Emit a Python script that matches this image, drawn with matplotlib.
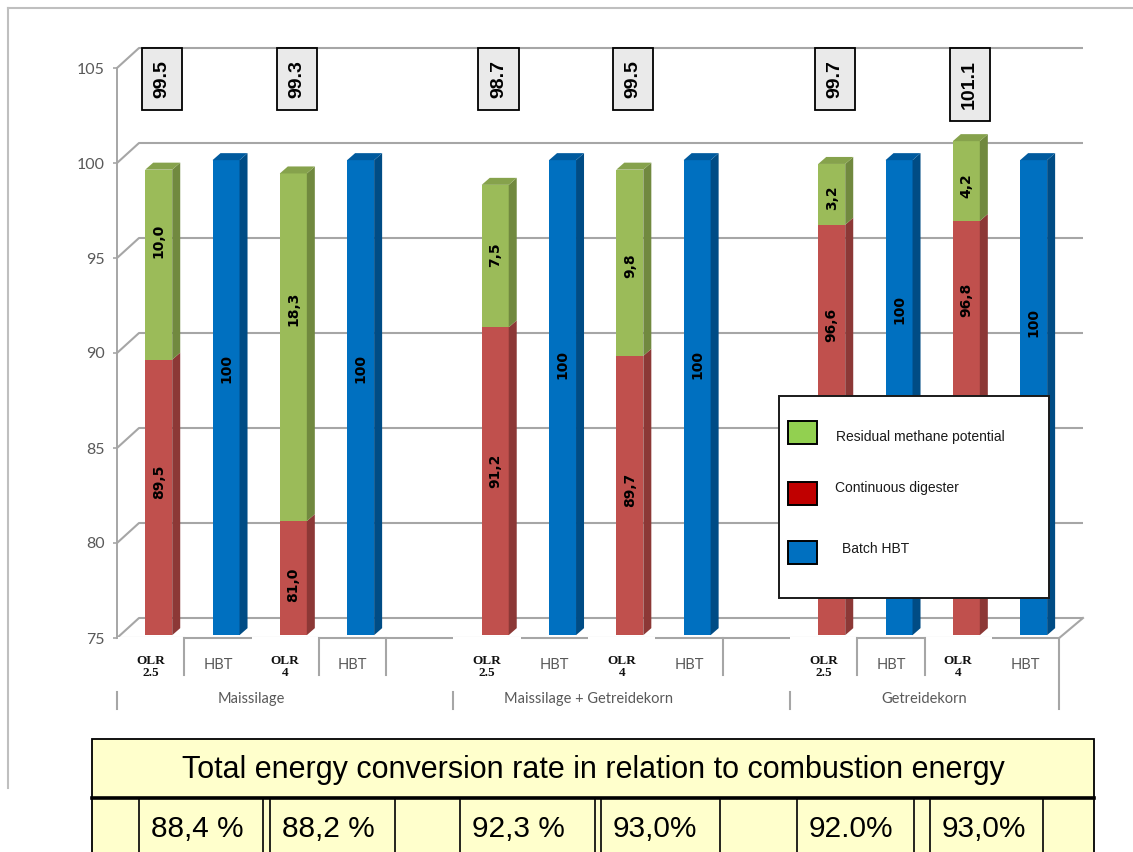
import matplotlib
matplotlib.use("Agg")
import matplotlib.pyplot as plt
from matplotlib.patches import Rectangle
from matplotlib import font_manager as fm

# ---------------- data ----------------
groups = ["Maissilage", "Maissilage + Getreidekorn", "Getreidekorn"]
olr_labels = ["OLR\n2.5", "OLR\n4"]
hbt_label = "HBT"
continuous = [89.5, 81.0, 91.2, 89.7, 96.6, 96.8]      # Continuous digester (red)
residual = [10.0, 18.3, 7.5, 9.8, 3.2, 4.2]            # Residual methane potential (green)
batch = [100, 100, 100, 100, 100, 100]                 # Batch HBT (blue)
totals = [99.5, 99.3, 98.7, 99.5, 99.7, 101.1]
conversion = ["88,4 %", "88,2 %", "92,3 %", "93,0%", "92.0%", "93,0%"]
table_title = "Total energy conversion rate in relation to combustion energy"
legend_labels = ["Residual methane potential", "Continuous digester", "Batch HBT"]
yticks = [75, 80, 85, 90, 95, 100, 105]

# ---------------- style / layout ----------------
W, H = 1133, 852
PXX, PXY = 67.3, 19.0          # px per category, px per y unit
AX_L, AX_B = 117, 638          # pixel position of (0, 75)
YMIN, YMAX = 75, 106.6
GRID = "#A6A6A6"
TXT = "#595959"
DEPTH_Y = 0.15                 # vertical 3-D offset of the bar plane (data units)
# label centre positions (y data units) as placed in the original chart
red_lab_y = [83.2, 77.8, 83.8, 82.8, 91.5, 92.8]
green_lab_y = [95.9, 92.3, 95.2, 94.6, 98.2, 98.8]
blue_lab_y = [89.2, 89.2, 89.4, 89.4, 92.3, 91.6]

C_GREEN = ("#9BBB59", "#71893F", "#86A24C")
C_RED = ("#C0504D", "#8C3836", "#A33F3C")
C_BLUE = ("#0070C0", "#004C85", "#005A9E")

names = {f.name for f in fm.fontManager.ttflist}
narrow = "Liberation Sans Narrow" in names
TFONT = ["Liberation Sans Narrow", "Liberation Sans"] if narrow else ["Liberation Sans"]
TSIZE = 26 if narrow else 22
VSIZE = 26 if narrow else 21.5

fig = plt.figure(figsize=(W / 100, H / 100), dpi=100)
ax = fig.add_axes([AX_L / W, (H - AX_B) / H, 14 * PXX / W, (YMAX - YMIN) * PXY / H])
ax.set_xlim(0, 14)
ax.set_ylim(YMIN, YMAX)
for s in ["top", "right", "bottom"]:
    ax.spines[s].set_visible(False)
ax.spines["left"].set_bounds(75, 105)
ax.spines["left"].set_color(GRID)
ax.spines["left"].set_linewidth(1.4)
ax.set_xticks([])
ax.set_yticks(yticks)
ax.tick_params(axis="y", length=3, width=1.2, color=GRID, pad=6,
               labelsize=11.5, labelcolor=TXT)
for t in ax.get_yticklabels():
    t.set_fontfamily("Lato")
ax.patch.set_alpha(0)

def yd(px):
    return 75 - (px - AX_B) / PXY

ddx, ddy = 22 / PXX, 20 / PXY          # back-wall depth
xr = (1083 - AX_L) / PXX

# back wall gridlines
for v in yticks:
    ax.plot([0, ddx, xr], [v, v + ddy, v + ddy], color=GRID, lw=1.5,
            clip_on=False, zorder=1, solid_capstyle="butt")
# floor edges
ax.plot([0, 14, xr], [75, 75, 75 + ddy], color=GRID, lw=1.5, clip_on=False, zorder=1)

# ---------------- bars ----------------
bw = 27 / PXX
bdx, bdy = 8 / PXX, 7 / PXY
shift = 0.62

def faces(x, bottom, top, cols, with_top):
    r = x + bw / 2
    ax.fill([r, r + bdx, r + bdx, r], [bottom, bottom + bdy, top + bdy, top],
            color=cols[1], lw=0, zorder=3, clip_on=False)
    if with_top:
        l = x - bw / 2
        ax.fill([l, l + bdx, r + bdx, r], [top, top + bdy, top + bdy, top],
                color=cols[2], lw=0, zorder=3, clip_on=False)

for i in range(6):
    g, j = divmod(i, 2)
    k_olr = g * 5 + 2 * j
    k_hbt = k_olr + 1
    xo = k_olr + shift
    xh = k_hbt + shift
    b0 = YMIN + DEPTH_Y
    red_top = continuous[i] + DEPTH_Y
    ax.bar(xo, continuous[i] - YMIN, bottom=b0, width=bw, color=C_RED[0], lw=0,
           zorder=3, clip_on=False)
    faces(xo, b0, red_top, C_RED, False)
    ax.bar(xo, residual[i], bottom=red_top, width=bw, color=C_GREEN[0], lw=0,
           zorder=3, clip_on=False)
    faces(xo, red_top, red_top + residual[i], C_GREEN, True)
    ax.bar(xh, batch[i] - YMIN, bottom=b0, width=bw, color=C_BLUE[0], lw=0, zorder=3,
           clip_on=False)
    faces(xh, b0, batch[i] + DEPTH_Y, C_BLUE, True)

    lab = dict(rotation=90, ha="center", va="center", fontsize=10, fontweight="bold",
               color="black", family="DejaVu Sans", zorder=5)
    ax.text(xo, red_lab_y[i], f"{continuous[i]:.1f}".replace(".", ","), **lab)
    ax.text(xo, green_lab_y[i], f"{residual[i]:.1f}".replace(".", ","), **lab)
    ax.text(xh, blue_lab_y[i], f"{batch[i]:d}", **lab)

    ax.text(xo + 0.05, 105.42, f"{totals[i]:.1f}", rotation=90, ha="center", va="top",
            fontsize=14, fontweight="bold", family="Liberation Sans", color="black",
            zorder=6, clip_on=False,
            bbox=dict(boxstyle="square,pad=0.6", fc="#EAEAEA", ec="black", lw=1.3))

    # category labels
    ax.add_patch(Rectangle((k_olr, yd(690)), 1.0, yd(636.5) - yd(690), fc="white",
                           ec="none", zorder=2.5, clip_on=False))
    ax.text(k_olr + 0.5, yd(667), olr_labels[j], ha="center", va="center",
            fontsize=9.5, fontweight="bold", family="Liberation Serif",
            linespacing=1.05, color="#111111", zorder=4, clip_on=False)
    ax.text(k_hbt + 0.5, yd(665), hbt_label, ha="center", va="center", fontsize=10.5,
            family="Lato", color=TXT, zorder=4, clip_on=False)

for g, name in enumerate(groups):
    ax.text(g * 5 + 2, yd(699), name, ha="center", va="center", fontsize=10.5,
            family="Lato", color=TXT, zorder=4, clip_on=False)

for k in [1, 3, 4, 9, 11, 12]:
    ax.plot([k, k], [yd(638), yd(675)], color=GRID, lw=1.5, zorder=4, clip_on=False)
for k in [0, 5, 10]:
    ax.plot([k, k], [yd(692), yd(709)], color=GRID, lw=1.5, zorder=4, clip_on=False)
ax.plot([14, 14], [yd(638), yd(709)], color=GRID, lw=1.5, zorder=4, clip_on=False)

# ---------------- overlay (frame, legend, table) ----------------
ov = fig.add_axes([0, 0, 1, 1], zorder=10)
ov.set_xlim(0, W)
ov.set_ylim(H, 0)
ov.axis("off")
ov.patch.set_alpha(0)

ov.plot([8, W], [8, 8], color="#BFBFBF", lw=1.5)
ov.plot([8, 8], [8, 788], color="#BFBFBF", lw=1.5)

# legend
ov.add_patch(Rectangle((779, 396), 270, 202, fc="white", ec="#1A1A1A", lw=1.4))
leg_cols = ["#92D050", "#C00000", "#0070C0"]
leg_y = [432, 493, 552]
leg_tx = [836, 835, 842]
leg_ty = [437, 488, 549]
for c, y, tx, ty, lbl in zip(leg_cols, leg_y, leg_tx, leg_ty, legend_labels):
    ov.add_patch(Rectangle((788, y - 11.5), 29, 23, fc=c, ec="black", lw=1.4))
    ov.text(tx, ty, lbl, ha="left", va="center", fontsize=10,
            family="Liberation Sans", color="#1A1A1A")

# table
TBL_L, TBL_R = 92, 1094
ov.add_patch(Rectangle((TBL_L, 739), TBL_R - TBL_L, 59, fc="#FFFFCC", ec="black", lw=1.3))
ov.add_patch(Rectangle((TBL_L, 798), TBL_R - TBL_L, 70, fc="#FFFFCC", ec="black", lw=1.3,
                       clip_on=False))
ov.plot([TBL_L, TBL_R], [798, 798], color="black", lw=2.6)
ov.text((TBL_L + TBL_R) / 2, 770, table_title, ha="center", va="center",
        fontsize=TSIZE, family=TFONT, color="black")
col_lines = [139, 263, 270, 395, 460, 595, 601, 720, 797, 914, 930, 1043]
for x in col_lines:
    ov.plot([x, x], [798, H + 5], color="black", lw=1.2, clip_on=False)
cell_left = [139, 270, 460, 601, 797, 930]
for x, s in zip(cell_left, conversion):
    ov.text(x + 12, 829, s, ha="left", va="center", fontsize=VSIZE,
            family=TFONT, color="black")

fig.savefig("out.png", dpi=100)
